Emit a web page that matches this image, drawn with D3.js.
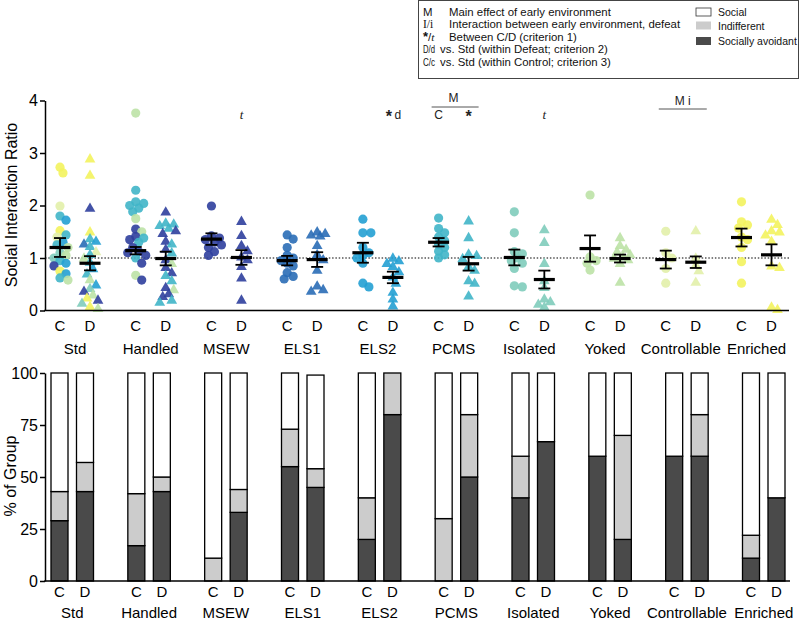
<!DOCTYPE html>
<html><head><meta charset="utf-8">
<script src="https://cdn.jsdelivr.net/npm/d3@7"></script>
<style>body{margin:0;background:#fff}svg{display:block;font-family:Arial,"Liberation Sans",sans-serif}</style>
</head><body><svg id="c" width="800" height="625"></svg>
<script>
const groups = ["Std","Handled","MSEW","ELS1","ELS2","PCMS","Isolated","Yoked","Controllable","Enriched"];
const condLabels = ["C","D"];

// Social interaction ratios (Control = circles, Defeat = triangles)
const ratioC = [
  [2.73,2.62,1.99,1.80,1.72,1.52,1.44,1.40,1.30,1.25,1.20,1.10,1.05,1.00,0.95,0.90,0.85,0.75,0.70,0.62,0.58],
  [3.76,2.29,2.07,2.04,2.00,1.95,1.88,1.75,1.55,1.50,1.41,1.38,1.35,1.30,1.20,1.12,1.10,1.05,1.00,0.90,0.67,0.58],
  [1.99,1.42,1.38,1.35,1.30,1.25,1.20,1.12,1.05],
  [1.44,1.36,1.20,1.05,1.00,0.95,0.90,0.85,0.72,0.65,0.60],
  [1.74,1.48,1.48,1.20,1.10,1.05,1.00,0.90,0.52,0.45],
  [1.76,1.56,1.48,1.40,1.33,1.26,1.20,1.13,1.06,1.00],
  [1.88,1.48,1.12,1.08,1.00,0.95,0.90,0.80,0.47,0.45],
  [2.20,1.02,0.95,0.90,0.77],
  [1.51,1.10,1.00,0.80,0.52],
  [2.07,1.69,1.63,1.57,1.40,1.35,1.20,0.93,0.52]
];
const ratioD = [
  [2.87,2.56,1.93,1.48,1.35,1.30,1.25,1.20,1.10,1.05,0.98,0.90,0.78,0.68,0.57,0.47,0.40,0.35,0.28,0.22,0.18,0.12,0.06,0.02],
  [1.86,1.65,1.63,1.60,1.55,1.50,1.45,1.30,1.25,1.15,1.08,0.95,0.88,0.80,0.70,0.65,0.55,0.42,0.38,0.30,0.25,0.18,0.14],
  [1.68,1.41,1.22,1.12,1.00,0.95,0.82,0.60,0.18],
  [1.48,1.45,1.42,1.40,1.22,1.05,0.95,0.75,0.45,0.38,0.35],
  [0.98,0.93,0.88,0.82,0.72,0.62,0.50,0.33,0.20,0.07],
  [1.69,1.37,1.06,1.03,0.97,0.82,0.75,0.55,0.50,0.26],
  [1.52,1.28,0.88,0.55,0.42,0.20,0.15,0.10,0.05],
  [1.37,1.22,1.15,1.10,1.05,1.00,0.98,0.95,0.88,0.52],
  [1.50,0.98,0.85,0.74,0.52],
  [1.72,1.62,1.50,1.48,1.42,1.30,0.83,0.80,0.05,0.00]
];
// colour key of each point (cohort); a single key = whole group
const colorC = [
  ["E","E","Co","P","E2","E","P","Co","E2","P","Y","I","Y","I","P","E2","M","E","E2","P","Y"],
  ["Y","P","P","P","P","P","P","Y","M","Y","M","P","M","P","M","M","M","M","P","M","Y","M"],
  "M","E1","E2","P","I","Y","Co","E"
];
const colorD = [
  ["E","E","M","E","P","E2","E1","P","Co","P","Y","P","E2","P","Y","E2","I","M","Y","E","M","I","E","Y"],
  ["M","P","P","P","P","M","M","M","P","M","P","M","Y","M","M","P","P","M","Y","M","M","P","P"],
  "M","E1","E2","P","I","Y","Co","E"
];
const palette = {E:"#f3f35e",Co:"#e2f0aa",Y:"#bce2a6",I:"#80ccbb",P:"#40b5c8",E2:"#24a0d3",E1:"#2a6db6",M:"#2f3f9d"};

// Mean and SEM
const meanC = [1.20,1.14,1.36,0.95,1.10,1.30,1.01,1.18,0.97,1.39];
const semC  = [0.18,0.07,0.11,0.09,0.19,0.08,0.15,0.25,0.17,0.17];
const meanD = [0.90,0.99,1.01,0.97,0.63,0.89,0.59,0.99,0.92,1.06];
const semD  = [0.135,0.13,0.14,0.14,0.11,0.13,0.17,0.075,0.11,0.20];

// % of group
const avoidC  = [29,17,0,55,20,0,40,60,60,11];
const indiffC = [14,25,11,18,20,30,20,0,0,11];
const socialC = [57,58,89,27,60,70,40,40,40,78];
const avoidD  = [43,43,33,45,80,50,67,20,60,40];
const indiffD = [14,7,11,9,20,30,0,50,20,0];
const socialD = [43,50,56,45,0,20,33,30,20,60];

const yTicksTop = [0,1,2,3,4];
const yTicksBot = [0,25,50,75,100];

const legendKeys = ["M","I/i","*/t","D/d","C/c"];
const legendText = ["Main effect of early environment","Interaction between early environment, defeat","Between C/D (criterion 1)","vs. Std (within Defeat; criterion 2)","vs. Std (within Control; criterion 3)"];
const catLabels = ["Social","Indifferent","Socially avoidant"];
const catColors = ["#ffffff","#cccccc","#4a4a4a"];

const svg = d3.select("#c");

// ---------- Legend ----------
svg.append("rect").attr("x",418.5).attr("y",0.5).attr("width",380).attr("height",78)
  .attr("fill","#fff").attr("stroke","#444").attr("stroke-width",1);
const lg = svg.append("g").attr("font-size",11.4).attr("fill","#111");
legendKeys.forEach((k,i)=>{
  const y = 16 + i*12.4;
  const t = lg.append("text").attr("x",423).attr("y",y);
  if(k==="*/t"){ t.append("tspan").text("*").attr("font-weight","bold").attr("font-size",13); t.append("tspan").text("/"); t.append("tspan").text("t").attr("font-style","italic").attr("font-family","'Liberation Serif',serif"); }
  else if(k==="I/i"){ t.text(k).attr("font-family","'Liberation Serif',serif").attr("font-size",11.5); }
  else if(k==="M"){ t.text(k); }
  else t.text(k).attr("textLength",12).attr("lengthAdjust","spacingAndGlyphs");
  lg.append("text").attr("x", i<3 ? 449 : 440).attr("y",y).text(legendText[i]);
});
catLabels.forEach((c,i)=>{
  const yc = [12,25.5,41][i];
  lg.append("rect").attr("x",696).attr("y",yc-4).attr("width",15).attr("height",8)
    .attr("fill",catColors[i]).attr("stroke", i===0?"#333":"none").attr("stroke-width",0.8);
  lg.append("text").attr("x",718).attr("y",yc+4).attr("font-size",10.5).text(c);
});

// ---------- Top: scatter ----------
const xTop = d3.scalePoint().domain(groups).range([75,756.5]);
const yTop = d3.scaleLinear().domain([0,4]).range([310.5,100.5]);
const offTop = {C:-15, D:15};
const topG = svg.append("g");

topG.append("line").attr("x1",45).attr("x2",789).attr("y1",yTop(1)).attr("y2",yTop(1))
  .attr("stroke","#000").attr("stroke-width",1.2).attr("stroke-dasharray","1.5,1.8");

function swarm(values, r){
  const order = values.map((v,i)=>i).sort((a,b)=>values[b]-values[a]);
  const placed = []; const off = new Array(values.length).fill(0);
  const cand = [0,3,-3,6,-6,8,-8,10,-10];
  order.forEach(i=>{
    const py = yTop(values[i]);
    let best = 0, bestD = -1;
    for(const c of cand){
      let md = Infinity;
      for(const p of placed){ const d = Math.hypot(p[0]-c, p[1]-py); if(d<md) md=d; }
      if(md >= r*1.4){ best=c; bestD=md; break; }
      if(md>bestD){ bestD=md; best=c; }
    }
    off[i]=best; placed.push([best,py]);
  });
  return off;
}

const tri = d3.symbol().type(d3.symbolTriangle).size(50);
groups.forEach((g,gi)=>{
  [["C",ratioC[gi],colorC[gi]],["D",ratioD[gi],colorD[gi]]].forEach(([cd,vals,cols])=>{
    const cx = xTop(g)+offTop[cd];
    const offs = swarm(vals,4.6);
    const pts = topG.append("g");
    vals.forEach((v,i)=>{
      const col = palette[Array.isArray(cols)?cols[i]:cols];
      if(cd==="C") pts.append("circle").attr("cx",cx+offs[i]).attr("cy",yTop(v)).attr("r",4.6).attr("fill",col).attr("fill-opacity",0.9);
      else pts.append("path").attr("d",tri).attr("transform",`translate(${cx+offs[i]},${yTop(v)-0.5})`).attr("fill",col).attr("fill-opacity",0.9);
    });
  });
});

// mean ± SEM
groups.forEach((g,gi)=>{
  [["C",meanC[gi],semC[gi]],["D",meanD[gi],semD[gi]]].forEach(([cd,m,s])=>{
    const cx = xTop(g)+offTop[cd];
    const e = topG.append("g").attr("stroke","#000");
    e.append("line").attr("x1",cx).attr("x2",cx).attr("y1",yTop(m-s)).attr("y2",yTop(m+s)).attr("stroke-width",1.8);
    [m-s,m+s].forEach(v=>e.append("line").attr("x1",cx-6).attr("x2",cx+6).attr("y1",yTop(v)).attr("y2",yTop(v)).attr("stroke-width",1.8));
    e.append("line").attr("x1",cx-10.5).attr("x2",cx+10.5).attr("y1",yTop(m)).attr("y2",yTop(m)).attr("stroke-width",3.2);
  });
});

const axT = topG.append("g").attr("transform","translate(45,0)")
  .call(d3.axisLeft(yTop).tickValues(yTicksTop).tickSize(5).tickSizeOuter(0).tickPadding(2).tickFormat(d3.format("d")));
axT.select(".domain").attr("stroke-width",1.5);
axT.selectAll(".tick line").attr("stroke-width",1.5);
axT.selectAll("text").attr("font-size",16).attr("fill","#000").attr("font-family","Arial,'Liberation Sans',sans-serif");
topG.append("line").attr("x1",44.25).attr("x2",789).attr("y1",yTop(0)).attr("y2",yTop(0)).attr("stroke","#000").attr("stroke-width",1.5);

groups.forEach(g=>{
  condLabels.forEach(cd=>topG.append("text").attr("x",xTop(g)+offTop[cd]).attr("y",331).attr("text-anchor","middle").attr("font-size",15).text(cd));
  topG.append("text").attr("x",xTop(g)).attr("y",354).attr("text-anchor","middle").attr("font-size",15).text(g);
});
topG.append("text").attr("transform","translate(17,205) rotate(-90)").attr("text-anchor","middle").attr("font-size",16).text("Social Interaction Ratio");

// annotations
const an = topG.append("g").attr("font-size",12).attr("fill","#222").attr("text-anchor","middle");
function star(x,y){ an.append("text").attr("x",x).attr("y",y+3).attr("font-size",16).attr("font-weight","bold").text("*"); }
an.append("text").attr("x",xTop("MSEW")+offTop.D).attr("y",119).attr("font-style","italic").attr("font-family","'Liberation Serif',serif").attr("font-size",13).text("t");
star(xTop("ELS2")+offTop.D-4,119);
an.append("text").attr("x",xTop("ELS2")+offTop.D+5).attr("y",119).text("d");
an.append("text").attr("x",xTop("PCMS")+offTop.C).attr("y",119).text("C");
star(xTop("PCMS")+offTop.D,119);
an.append("text").attr("x",xTop("PCMS")).attr("y",102).text("M");
an.append("line").attr("x1",xTop("PCMS")-22).attr("x2",xTop("PCMS")+25).attr("y1",107).attr("y2",107).attr("stroke","#555").attr("stroke-width",1);
an.append("text").attr("x",xTop("Isolated")+offTop.D).attr("y",119).attr("font-style","italic").attr("font-family","'Liberation Serif',serif").attr("font-size",13).text("t");
an.append("text").attr("x",xTop("Controllable")+2).attr("y",105).text("M i");
an.append("line").attr("x1",xTop("Controllable")-22).attr("x2",xTop("Controllable")+26).attr("y1",109).attr("y2",109).attr("stroke","#555").attr("stroke-width",1);

// ---------- Bottom: stacked bars ----------
const xBot = d3.scalePoint().domain(groups).range([72.25,763.75]);
const yBot = d3.scaleLinear().domain([0,100]).range([581,373]);
const offBot = {C:-12.75, D:12.75};
const bot = svg.append("g");
const bw = 17;
groups.forEach((g,gi)=>{
  [["C",avoidC[gi],indiffC[gi],socialC[gi]],["D",avoidD[gi],indiffD[gi],socialD[gi]]].forEach(([cd,a,ind,so])=>{
    const cx = xBot(g)+offBot[cd];
    const segs = [[0,a,catColors[2]],[a,a+ind,catColors[1]],[a+ind,a+ind+so,catColors[0]]];
    segs.forEach(([lo,hi,col])=>{
      if(hi-lo<=0) return;
      bot.append("rect").attr("x",cx-bw/2).attr("width",bw).attr("y",yBot(hi)).attr("height",yBot(lo)-yBot(hi))
        .attr("fill",col).attr("stroke","#000").attr("stroke-width",1.3);
    });
  });
});
const axB = bot.append("g").attr("transform","translate(45,0)")
  .call(d3.axisLeft(yBot).tickValues(yTicksBot).tickSize(5).tickSizeOuter(0).tickPadding(2));
axB.select(".domain").attr("stroke-width",1.5);
axB.selectAll(".tick line").attr("stroke-width",1.5);
axB.selectAll("text").attr("font-size",16).attr("fill","#000").attr("font-family","Arial,'Liberation Sans',sans-serif");
bot.append("line").attr("x1",44.25).attr("x2",790).attr("y1",yBot(0)).attr("y2",yBot(0)).attr("stroke","#000").attr("stroke-width",1.5);
groups.forEach(g=>{
  condLabels.forEach(cd=>bot.append("text").attr("x",xBot(g)+offBot[cd]).attr("y",597).attr("text-anchor","middle").attr("font-size",15).text(cd));
  bot.append("text").attr("x",xBot(g)).attr("y",618).attr("text-anchor","middle").attr("font-size",15).text(g);
});
bot.append("text").attr("transform","translate(16,476) rotate(-90)").attr("text-anchor","middle").attr("font-size",16).text("% of Group");
</script></body></html>
